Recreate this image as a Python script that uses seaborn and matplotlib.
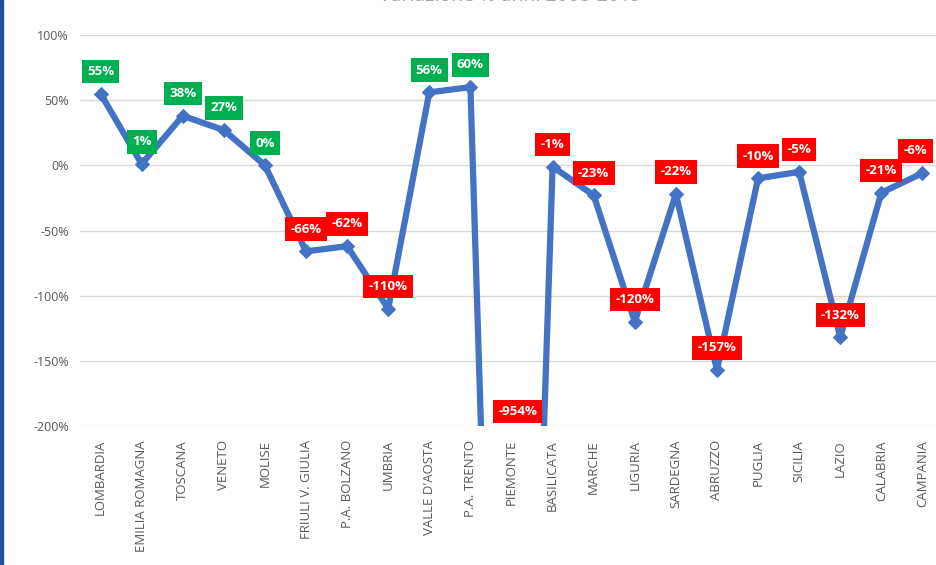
import matplotlib
matplotlib.use("Agg")
import matplotlib.pyplot as plt
import seaborn as sns
import pandas as pd
from matplotlib.patches import Rectangle

regions = ["LOMBARDIA", "EMILIA ROMAGNA", "TOSCANA", "VENETO", "MOLISE",
           "FRIULI V. GIULIA", "P.A. BOLZANO", "UMBRIA", "VALLE D'AOSTA",
           "P.A. TRENTO", "PIEMONTE", "BASILICATA", "MARCHE", "LIGURIA",
           "SARDEGNA", "ABRUZZO", "PUGLIA", "SICILIA", "LAZIO", "CALABRIA",
           "CAMPANIA"]
values = [55, 1, 38, 27, 0, -66, -62, -110, 56, 60, -954, -1, -23, -120,
          -22, -157, -10, -5, -132, -21, -6]
yticks = [100, 50, 0, -50, -100, -150, -200]
title = "Variazione % anni 2008-2019"

sns.set_theme(style="white")
plt.rcParams["font.family"] = ["Open Sans", "DejaVu Sans"]

df = pd.DataFrame({"region": regions, "value": values})

fig = plt.figure(figsize=(9.37, 5.65), dpi=100)
ax = fig.add_axes([80 / 937, 139 / 565, 863 / 937, 391 / 565])

sns.lineplot(data=df, x="region", y="value", sort=False, ax=ax,
             color="#4472C4", linewidth=4.5, marker="D", markersize=7,
             markeredgecolor="#4472C4", clip_on=True)

ax.set_ylim(-200, 100)
ax.set_xlim(-0.5, len(regions) - 0.5)
ax.set_yticks(yticks)
ax.set_yticklabels([f"{t}%" for t in yticks], fontsize=9, color="#595959")
ax.set_xticks(range(len(regions)))
ax.set_xticklabels(regions, rotation=90, fontsize=9.5, color="#595959")
ax.tick_params(axis="both", length=0, pad=8)
ax.tick_params(axis="x", pad=10)
ax.grid(axis="y", color="#D9D9D9", linewidth=1)
ax.set_axisbelow(True)
for s in ax.spines.values():
    s.set_visible(False)
ax.set_xlabel("")
ax.set_ylabel("")

for i, v in enumerate(values):
    col = "#00B050" if v >= 0 else "#FF0000"
    kw = dict(ha="center", va="center", color="white", fontsize=9.5,
              fontweight="bold",
              bbox=dict(boxstyle="square,pad=0.4", fc=col, ec="none"))
    if v < -200:
        ax.text(i + 0.15, -189, f"{v}%", zorder=5, **kw)
    else:
        dx = -5 if i == len(values) - 1 else 0
        ax.annotate(f"{v}%", xy=(i, v), xytext=(dx, 16),
                    textcoords="offset points", zorder=5, **kw)

fig.text(510 / 937, 1.007, title, ha="center", va="center",
         fontsize=14, color="#A6A6A6")
fig.patches.append(Rectangle((0, 0), 3 / 937, 1, transform=fig.transFigure,
                             color="#1F4E9A", zorder=10))

fig.savefig("out.png", dpi=100)
